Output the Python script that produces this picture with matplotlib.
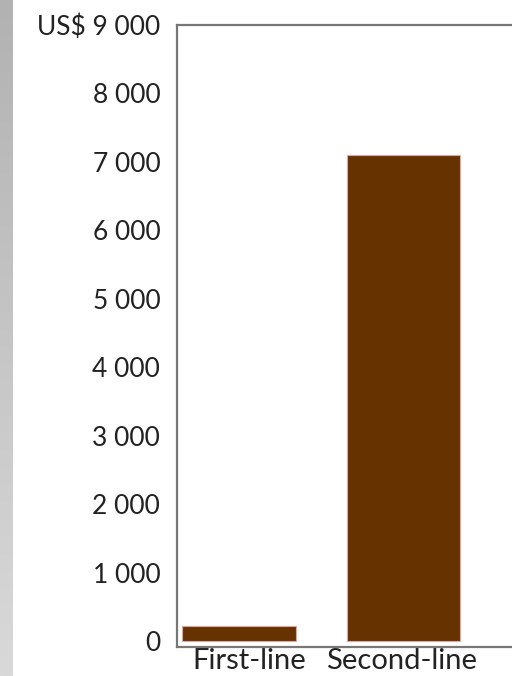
import matplotlib
matplotlib.use("Agg")
import matplotlib.pyplot as plt
import matplotlib.transforms as mtransforms
from matplotlib.colors import LinearSegmentedColormap
import numpy as np

categories = ["First-line", "Second-line"]
values = [220, 7100]
ytick_values = [0, 1000, 2000, 3000, 4000, 5000, 6000, 7000, 8000, 9000]
ytick_labels = ["0", "1 000", "2 000", "3 000", "4 000", "5 000", "6 000",
                "7 000", "8 000", "US$ 9 000"]

plt.rcParams['font.family'] = ['Lato', 'DejaVu Sans']

W, H = 512, 676
fig = plt.figure(figsize=(W / 100, H / 100), dpi=100)
fig.patch.set_facecolor("white")

# gray gradient strip on the left
sax = fig.add_axes([0, 0, 13 / W, 1])
grad = np.linspace(0, 1, 256).reshape(-1, 1)
cmap = LinearSegmentedColormap.from_list("g", ["#b2b2b2", "#d9d9d9"])
sax.imshow(grad, aspect="auto", cmap=cmap, extent=[0, 1, 1, 0])
sax.set_axis_off()

left, right = 177 / W, 1.0
bottom, top = 1 - 647 / H, 1 - 25 / H
ax = fig.add_axes([left, bottom, right - left, top - bottom])

x = np.arange(len(categories))
ax.bar(x, values, width=0.69, color="#663300", edgecolor="#d8a8a8", linewidth=0.8)

ax.set_xlim(-0.377, 1.66)
ax.set_ylim(-88, 9000)
ax.set_yticks(ytick_values)
ax.set_yticklabels(ytick_labels)
ax.set_xticks(x)
ax.set_xticklabels(categories)

ax.tick_params(axis="y", length=0, pad=12, labelsize=19, labelcolor="#222222")
ax.tick_params(axis="x", length=0, pad=1, labelsize=21, labelcolor="#222222")

# shift category labels slightly as in reference
lbls = ax.get_xticklabels()
for lbl, dx in zip(lbls, [10, -2]):
    off = mtransforms.ScaledTranslation(dx / 100, 0, fig.dpi_scale_trans)
    lbl.set_transform(lbl.get_transform() + off)

for s in ["left", "top", "bottom"]:
    ax.spines[s].set_color("#777777")
    ax.spines[s].set_linewidth(1.6)
ax.spines["right"].set_visible(False)

fig.savefig("out.png", dpi=100)
